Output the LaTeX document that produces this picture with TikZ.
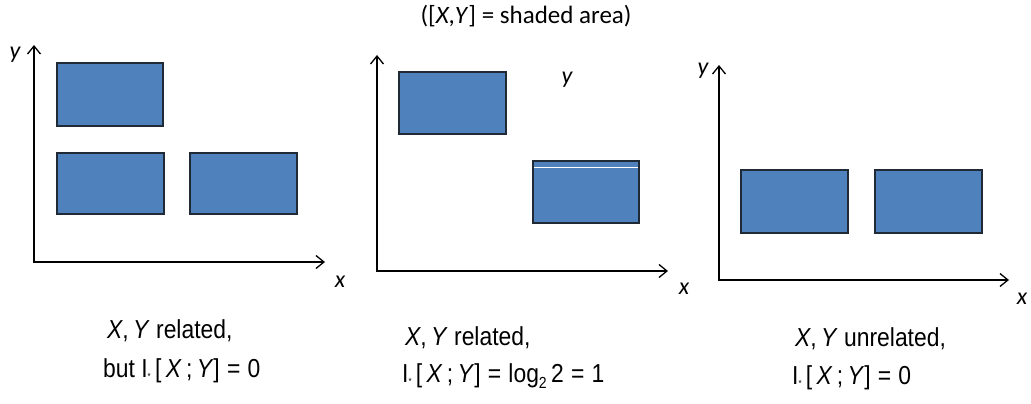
\documentclass[tikz,border=0pt]{standalone}
\usepackage{fontspec}
\setmainfont{Liberation Sans}
\newfontfamily\calfont{Carlito}
\newfontfamily\narrowfont[FakeStretch=0.88]{Liberation Sans}
\usetikzlibrary{arrows.meta,positioning,calc}
\definecolor{blkc}{HTML}{4F81BD}
\definecolor{edgec}{HTML}{1F2A36}
\tikzset{
  >={Straight Barb[length=8pt,width=13pt]},
  axis/.style={<->,line width=1.3pt,draw=black},
  blk/.style={draw=edgec,fill=blkc,line width=1.2pt},
  axl/.style={font=\calfont\itshape\fontsize{24}{26}\selectfont,inner sep=0pt},
  ttl/.style={font=\calfont\fontsize{25}{28}\selectfont,inner sep=0pt},
  lbl/.style={font=\narrowfont\fontsize{26}{28}\selectfont,anchor=base west,inner sep=0pt},
}
\newcommand{\istar}{I\raisebox{-0.2ex}{\fontsize{9}{9}\selectfont*}}
\newcommand{\ixy}{\istar\,[\,\textit{X}\,;\,\textit{Y}]\;=\;}
% axes: name, origin, height, width
\newcommand{\plane}[4]{%
  \coordinate (#1-o) at (#2);
  \coordinate (#1-y) at ($(#2)+(0,-#3)$);
  \coordinate (#1-x) at ($(#2)+(#4,0)$);
  \draw[axis] (#1-y) |- (#1-x);}

\begin{document}
\begin{tikzpicture}[x=1pt,y=-1pt]
  \useasboundingbox (0,0) rectangle (1031,404);
  \node[ttl] (title) at (526,16) {([\textit{X},\textit{Y}] = shaded area)};

  % left
  \plane{A}{34,262}{217}{291}
  \draw[blk] (57,63) rectangle (163,126);
  \foreach \x in {57,190} \draw[blk] (\x,153) rectangle ++(107,61);
  \node[axl] (A-ly) at (15,55) {y};
  \node[axl] (A-lx) at (340,282) {x};
  \node[lbl] (A-t1) at (107,338) {\textit{X},\,\textit{Y} related,};
  \node[lbl] (A-t2) at (103,377) {but \ixy 0};

  % middle
  \plane{B}{377,271}{216}{291}
  \draw[blk] (399,72) rectangle (506,134);
  \draw[blk] (533,161) rectangle (639,223);
  \draw[white,line width=1pt] (534,167) -- (638,167);
  \node[axl] (B-ly) at (567,80) {y};
  \node[axl] (B-lx) at (684,289) {x};
  \node[lbl] (B-t1) at (405,345) {\textit{X},\,\textit{Y} related,};
  \node[lbl] (B-t2) at (402,382) {\ixy log\raisebox{-0.45ex}{\fontsize{16}{16}\selectfont 2}\,2\;=\;1};

  % right
  \plane{C}{719,280}{215}{290}
  \foreach \x in {741,875} \draw[blk] (\x,170) rectangle ++(107,63);
  \node[axl] (C-ly) at (703,71) {y};
  \node[axl] (C-lx) at (1022,299) {x};
  \node[lbl] (C-t1) at (795,346) {\textit{X},\,\textit{Y} unrelated,};
  \node[lbl] (C-t2) at (792,384) {\ixy 0};
\end{tikzpicture}
\end{document}
